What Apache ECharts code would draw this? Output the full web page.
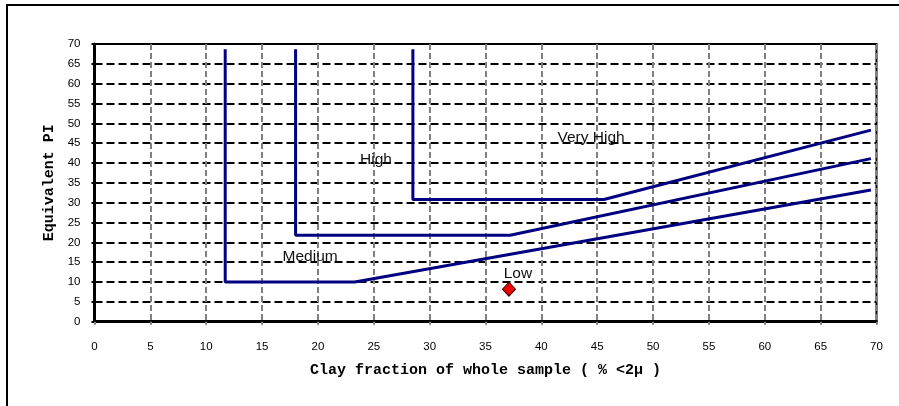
<!DOCTYPE html>
<html><head><meta charset="utf-8">
<script src="https://cdn.jsdelivr.net/npm/echarts@6/dist/echarts.min.js"></script>
<style>html,body{margin:0;padding:0;background:#fff}#c{width:899px;height:406px}</style>
</head><body><div id="c"></div>
<script>
// Boundary lines [clay %, PI]
const boundaryLow = [[11.7,68.7],[11.7,10],[23.3,10],[69.5,33.2]];
const boundaryHigh = [[18.0,68.7],[18.0,21.8],[37.2,21.8],[69.5,41.1]];
const boundaryVeryHigh = [[28.5,68.7],[28.5,30.8],[45.6,30.8],[69.5,48.3]];
const samplePoint = [[37.1,8.2]];
const regionNames = ['Very High','High','Medium','Low'];
const regionPositions = [[44.45,46.5],[25.2,40.8],[19.3,16.4],[37.9,12.0]];
const xTicks = [0,5,10,15,20,25,30,35,40,45,50,55,60,65,70];
const yTicks = [0,5,10,15,20,25,30,35,40,45,50,55,60,65,70];

const chart = echarts.init(document.getElementById('c'));
const lineStyle = {color:'#000080', width:3};
const mkLine = d => ({type:'line', data:d, symbol:'none', lineStyle:lineStyle, silent:true, z:3});
chart.setOption({
  animation:false,
  graphic:[{type:'rect', shape:{x:7,y:5,width:1000,height:1000}, style:{fill:'none', stroke:'#000', lineWidth:2}, z:-1}],
  grid:{left:94.5, right:22.5, top:44, bottom:84.3, show:true, borderColor:'#000', borderWidth:2, backgroundColor:'transparent'},
  xAxis:{type:'value', min:xTicks[0], max:xTicks[xTicks.length-1], interval:5,
    name:'Clay fraction of whole sample ( % <2\u03bc )', nameLocation:'middle', nameGap:41,
    nameTextStyle:{fontFamily:'Liberation Mono', fontWeight:'bold', fontSize:15, color:'#000'},
    axisLine:{lineStyle:{color:'#000', width:3}},
    axisTick:{show:true, length:3, lineStyle:{color:'#808080', width:2}},
    axisLabel:{margin:19, fontFamily:'Liberation Sans', fontSize:11.5, color:'#000'},
    splitLine:{show:true, lineStyle:{color:'#808080', type:[6,3], width:2}}},
  yAxis:{type:'value', min:yTicks[0], max:yTicks[yTicks.length-1], interval:5,
    name:'Equivalent PI', nameLocation:'middle', nameGap:38,
    nameTextStyle:{fontFamily:'Liberation Mono', fontWeight:'bold', fontSize:15, color:'#000'},
    axisLine:{lineStyle:{color:'#000', width:3}},
    axisTick:{show:true, length:3, lineStyle:{color:'#000', width:2}},
    axisLabel:{margin:14, fontFamily:'Liberation Sans', fontSize:11.5, color:'#000'},
    splitLine:{show:true, lineStyle:{color:'#000', type:[8,4], width:2}}},
  series:[
    mkLine(boundaryLow), mkLine(boundaryHigh), mkLine(boundaryVeryHigh),
    {type:'scatter', data:samplePoint, symbol:'diamond', symbolSize:[13,14],
      itemStyle:{color:'#ee0000', borderColor:'#400000', borderWidth:1, opacity:1}, z:5},
    {type:'scatter', symbolSize:0, z:6, silent:true,
      data:regionNames.map((n,i)=>({value:regionPositions[i], name:n})),
      label:{show:true, position:'inside', formatter:p=>p.name,
        fontFamily:'Liberation Sans', fontSize:15.5, color:'#111', textBorderWidth:0, opacity:1}}
  ]
});
</script></body></html>
